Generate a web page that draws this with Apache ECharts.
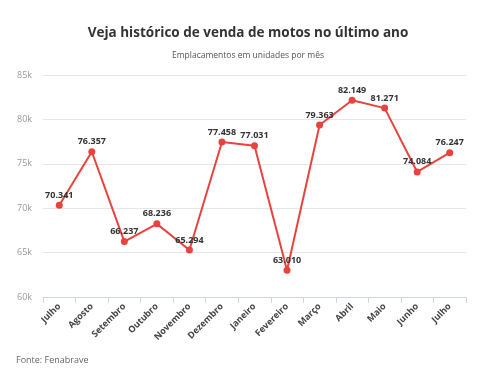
<!DOCTYPE html>
<html><head><meta charset="utf-8">
<script src="https://cdn.jsdelivr.net/npm/echarts@6/dist/echarts.min.js"></script>
<style>html,body{margin:0;padding:0;background:#fff}#c{width:496px;height:380px}</style>
</head><body><div id="c"></div>
<script>
var categories = ['Julho','Agosto','Setembro','Outubro','Novembro','Dezembro','Janeiro','Fevereiro','Março','Abril','Maio','Junho','Julho'];
var values = [70341,76357,66237,68236,65294,77458,77031,63010,79363,82149,81271,74084,76247];
var yTicks = [60000,65000,70000,75000,80000,85000];
var F = '"Open Sans", sans-serif';
var chart = echarts.init(document.getElementById('c'));
chart.setOption({
  animation:false,
  title:[
    {text:'Veja histórico de venda de motos no último ano',left:'center',top:21,textStyle:{fontFamily:F,fontSize:13.5,fontWeight:'bold',color:'#333'}},
    {text:'Emplacamentos em unidades por mês',left:'center',top:46,textStyle:{fontFamily:F,fontSize:8.5,fontWeight:'normal',color:'#555'}},
    {text:'Fonte: Fenabrave',left:11,top:351,textStyle:{fontFamily:F,fontSize:9,fontWeight:'normal',color:'#666'}}
  ],
  grid:{left:43,right:30,top:75,bottom:83},
  xAxis:{type:'category',data:categories,boundaryGap:true,
    axisLine:{lineStyle:{color:'#ccd6eb'}},
    axisTick:{show:true,lineStyle:{color:'#ccd6eb'},length:6},
    axisLabel:{rotate:45,fontFamily:F,fontSize:9,fontWeight:'bold',color:'#444',margin:8}},
  yAxis:{type:'value',min:yTicks[0],max:yTicks[yTicks.length-1],interval:5000,
    axisLine:{show:false},axisTick:{show:false},
    splitLine:{lineStyle:{color:'#e6e6e6'}},
    axisLabel:{fontFamily:F,fontSize:9,color:'#999',margin:11,formatter:function(v){return (v/1000)+'k';}}},
  series:[{type:'line',data:values,color:'#e8433c',
    lineStyle:{width:2,color:'#e8433c'},symbol:'circle',symbolSize:7,
    itemStyle:{color:'#e8433c'},
    label:{show:true,position:'top',distance:2,fontFamily:F,fontSize:9,fontWeight:'bold',color:'#333',
      formatter:function(p){var v=p.value;return Math.floor(v/1000)+'.'+String(v%1000).padStart(3,'0');}}}]
});
</script></body></html>
